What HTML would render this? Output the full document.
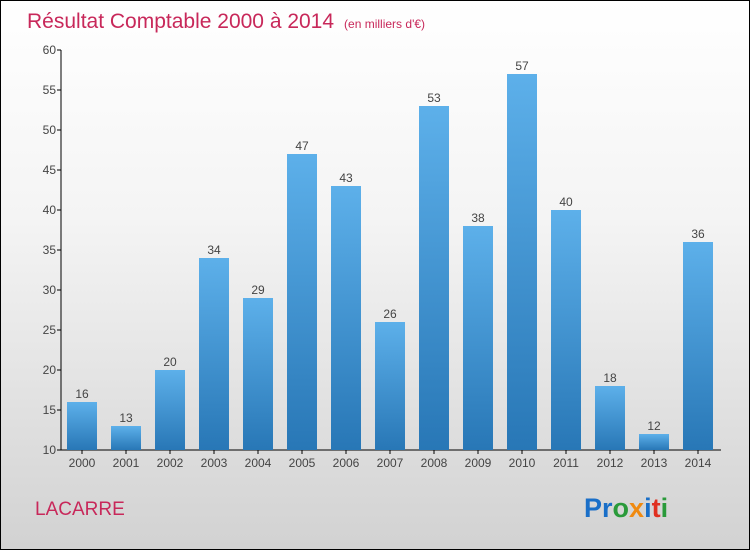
<!DOCTYPE html>
<html><head><meta charset="utf-8"><style>
body{margin:0}
#c{width:748px;height:548px;border:1px solid #000;background:linear-gradient(#ffffff 0%,#f4f4f4 40%,#d2d2d2 100%);position:relative;overflow:hidden;font-family:"Liberation Sans",sans-serif}
</style></head><body>
<div id="c">
<svg width="748" height="548">
<defs><linearGradient id="bg" x1="0" y1="0" x2="0" y2="1"><stop offset="0" stop-color="#5db0ea"/><stop offset="1" stop-color="#2877b6"/></linearGradient></defs>
<text x="26" y="27" font-size="21" fill="#c8285a">Résultat Comptable 2000 à 2014<tspan font-size="12" dx="10">(en milliers d'€)</tspan></text>
<text x="34" y="514" font-size="19" fill="#c8285a">LACARRE</text>
<text x="583" y="516" font-size="27" font-weight="bold"><tspan fill="#1a6fc8">Pr</tspan><tspan fill="#2a9a3a">o</tspan><tspan fill="#f08a10">x</tspan><tspan fill="#1a6fc8">i</tspan><tspan fill="#e03020">t</tspan><tspan fill="#2a9a3a">i</tspan></text>
<g id="g"></g>
</svg></div>
<script>
const years=["2000","2001","2002","2003","2004","2005","2006","2007","2008","2009","2010","2011","2012","2013","2014"];
const values=[16,13,20,34,29,47,43,26,53,38,57,40,18,12,36];
const yTicks=[10,15,20,25,30,35,40,45,50,55,60];
const ns="http://www.w3.org/2000/svg",g=document.getElementById('g');
const y=v=>449-(v-10)*8, x=i=>81+i*44;
function mk(t,a,txt){const e=document.createElementNS(ns,t);for(const k in a)e.setAttribute(k,a[k]);if(txt!=null)e.textContent=txt;g.appendChild(e);return e;}
let ax=mk('line',{x1:60,y1:49,x2:60,y2:449,stroke:'#000'});

let bx=mk('line',{x1:60,y1:449,x2:720,y2:449,stroke:'#000'});

yTicks.forEach(t=>{
 let l=mk('line',{x1:56,y1:y(t),x2:60,y2:y(t),stroke:'#000'});
 
 let tx=mk('text',{x:55,y:y(t)+4,'font-size':12,'text-anchor':'end',fill:'#444'},t);
 
});
values.forEach((v,i)=>{
 let r=mk('rect',{x:x(i)-15,y:y(v),width:30,height:449-y(v),fill:'url(#bg)'});
 
 let t=mk('text',{x:x(i),y:y(v)-4,'font-size':12,'text-anchor':'middle',fill:'#444'},v);
 
 let tk=mk('line',{x1:x(i),y1:449,x2:x(i),y2:453,stroke:'#000'});
 
 let yl=mk('text',{x:x(i),y:466,'font-size':12,'text-anchor':'middle',fill:'#444'},years[i]);
 
});
</script>
</body></html>
